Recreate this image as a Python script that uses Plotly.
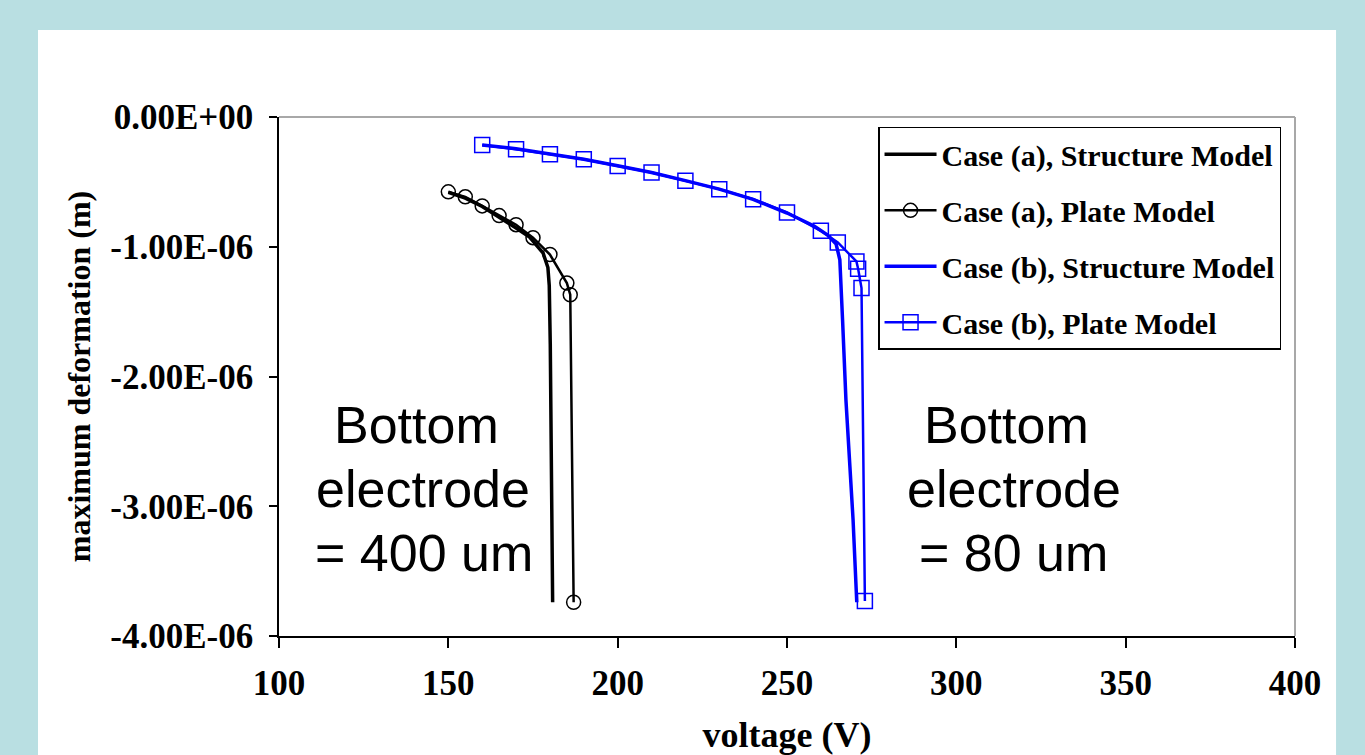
import plotly.graph_objects as go

# ---- data (deformation in metres, voltage in V) ----
volt_a_struct = [150, 155, 160, 165, 170, 174, 178, 179.4, 179.8, 180.1, 180.8]
def_a_struct = [-0.58e-6, -0.625e-6, -0.69e-6, -0.77e-6, -0.855e-6, -0.925e-6,
                -1.05e-6, -1.16e-6, -1.30e-6, -1.75e-6, -3.74e-6]

volt_a_plate = [150, 155, 160, 165, 170, 175, 180, 185, 186, 187]
def_a_plate = [-0.577e-6, -0.615e-6, -0.685e-6, -0.76e-6, -0.83e-6, -0.93e-6,
               -1.06e-6, -1.28e-6, -1.37e-6, -3.74e-6]

volt_b_struct = [160, 170, 180, 190, 200, 210, 220, 230, 240, 250, 258, 262,
                 264.5, 265.6, 266.4, 267.4, 269.5, 270.6]
def_b_struct = [-0.215e-6, -0.245e-6, -0.285e-6, -0.325e-6, -0.375e-6, -0.428e-6,
                -0.49e-6, -0.556e-6, -0.635e-6, -0.74e-6, -0.84e-6, -0.91e-6,
                -0.98e-6, -1.10e-6, -1.56e-6, -2.18e-6, -3.10e-6, -3.74e-6]

volt_b_plate = [160, 170, 180, 190, 200, 210, 220, 230, 240, 250, 260, 265,
                270.5, 271, 272, 273]
def_b_plate = [-0.215e-6, -0.248e-6, -0.287e-6, -0.325e-6, -0.377e-6, -0.428e-6,
               -0.492e-6, -0.556e-6, -0.633e-6, -0.736e-6, -0.877e-6, -0.967e-6,
               -1.113e-6, -1.17e-6, -1.318e-6, -3.73e-6]

series_names = ["Case (a), Structure Model", "Case (a), Plate Model",
                "Case (b), Structure Model", "Case (b), Plate Model"]

x_ticks = [100, 150, 200, 250, 300, 350, 400]
y_ticks = [0, -1e-6, -2e-6, -3e-6, -4e-6]
y_tick_labels = ["0.00E+00", "-1.00E-06", "-2.00E-06", "-3.00E-06", "-4.00E-06"]

note_a_lines = ["Bottom", "electrode", "= 400 um"]
note_b_lines = ["Bottom", "electrode", "= 80 um"]

# ---- annotation placement (data coordinates) ----
note_a_x = [140.5, 142.5, 142.8]
note_b_x = [314.8, 316.9, 317.0]
note_y = [-2.374e-6, -2.867e-6, -3.360e-6]

SERIF = "Liberation Serif, Times New Roman, serif"
SANS = "Liberation Sans, Arial, sans-serif"

fig = go.Figure()
fig.add_trace(go.Scatter(x=volt_a_struct, y=def_a_struct, mode="lines",
                         name=series_names[0], legendgroup="g1",
                         line=dict(color="black", width=3.5)))
fig.add_trace(go.Scatter(x=volt_a_plate, y=def_a_plate, mode="lines+markers",
                         name=series_names[1], legendgroup="g2",
                         line=dict(color="black", width=2.5),
                         marker=dict(symbol="circle-open", size=14, color="black",
                                     line=dict(width=1.5, color="black"))))
fig.add_trace(go.Scatter(x=volt_b_struct, y=def_b_struct, mode="lines",
                         name=series_names[2], legendgroup="g3",
                         line=dict(color="#0000ff", width=3.5)))
fig.add_trace(go.Scatter(x=volt_b_plate, y=def_b_plate, mode="lines+markers",
                         name=series_names[3], legendgroup="g4",
                         line=dict(color="#0000ff", width=2.5),
                         marker=dict(symbol="square-open", size=15, color="#0000ff",
                                     line=dict(width=1.5, color="#0000ff"))))

# white panel and top/right plot border
fig.add_shape(type="rect", xref="paper", yref="paper",
              x0=-0.2372, x1=1.0404, y0=-0.26, y1=1.1676,
              fillcolor="white", line=dict(width=0), layer="below")
fig.add_shape(type="line", xref="paper", yref="paper", x0=0, x1=1, y0=1, y1=1,
              line=dict(color="#a8a8a8", width=2))
fig.add_shape(type="line", xref="paper", yref="paper", x0=1, x1=1, y0=0, y1=1,
              line=dict(color="#a8a8a8", width=2))

for xs, lines in ((note_a_x, note_a_lines), (note_b_x, note_b_lines)):
    for xv, yv, txt in zip(xs, note_y, lines):
        fig.add_annotation(x=xv, y=yv, text=txt, showarrow=False,
                           xanchor="center", yanchor="middle",
                           font=dict(family=SANS, size=52, color="black"))

fig.update_layout(
    width=1365, height=755,
    margin=dict(l=279, r=70, t=117, b=119, autoexpand=False),
    paper_bgcolor="#b9dfe2", plot_bgcolor="white",
    showlegend=True,
    legend=dict(x=0.5896, xanchor="left", y=0.981, yanchor="top",
                bgcolor="white", bordercolor="black", borderwidth=1.5,
                tracegroupgap=14, itemwidth=52,
                font=dict(family=SERIF, size=30, color="black", weight="bold")),
    font=dict(family=SERIF, color="black"),
)
fig.update_xaxes(range=[100, 400], tickvals=x_ticks, showgrid=False, zeroline=False,
                 automargin=False,
                 showline=True, linecolor="black", linewidth=1.5,
                 ticks="outside", ticklen=10, tickwidth=1.5, tickcolor="black",
                 ticklabelstandoff=5,
                 tickfont=dict(family=SERIF, size=35, color="black", weight="bold"),
                 title=dict(text="voltage (V)", standoff=21,
                            font=dict(family=SERIF, size=36, color="black", weight="bold")))
fig.update_yaxes(range=[-4e-6, 0], tickvals=y_ticks, ticktext=y_tick_labels,
                 showgrid=False, zeroline=False, automargin=False,
                 showline=True, linecolor="black", linewidth=1.5,
                 ticks="outside", ticklen=8, tickwidth=1.5, tickcolor="black",
                 ticklabelstandoff=9,
                 tickfont=dict(family=SERIF, size=35, color="black", weight="bold"),
                 title=dict(text="maximum deformation (m)", standoff=10,
                            font=dict(family=SERIF, size=32, color="black", weight="bold")))

fig.write_html("out.html", config={"displayModeBar": False},
               post_script="document.body.style.margin='0px';")
